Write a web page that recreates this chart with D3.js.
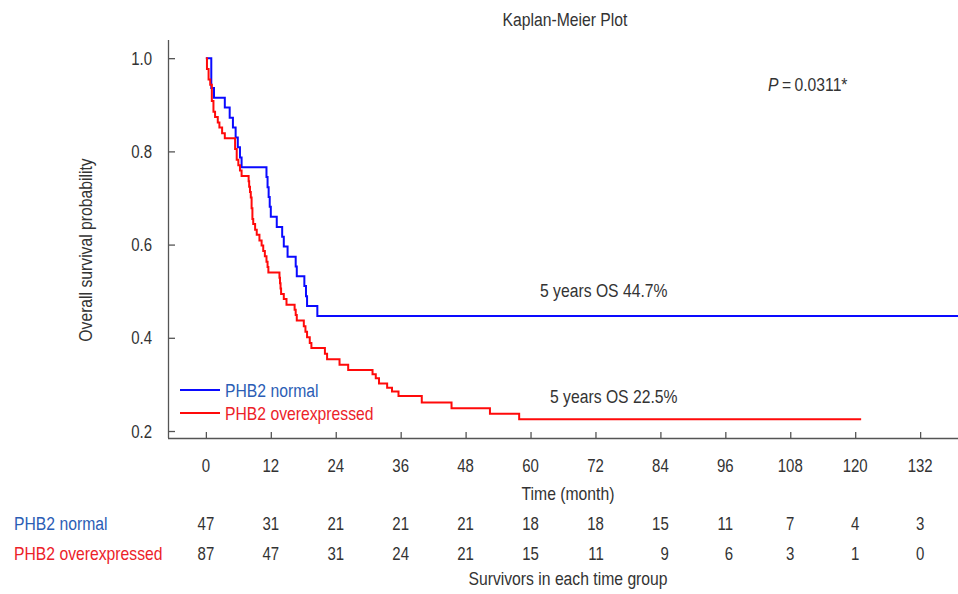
<!DOCTYPE html>
<html>
<head>
<meta charset="utf-8">
<script src="https://cdn.jsdelivr.net/npm/d3@7"></script>
<style>
  html, body { margin: 0; padding: 0; background: #fff; }
  svg text { font-family: "Liberation Sans", Arial, sans-serif; font-size: 18.5px; fill: #333; }
</style>
</head>
<body>
<svg id="chart" width="958" height="594"></svg>
<script>
// ---- data ----
const groups = ["PHB2 normal", "PHB2 overexpressed"];
const xTicks = [0, 12, 24, 36, 48, 60, 72, 84, 96, 108, 120, 132];
const yTicks = [0.2, 0.4, 0.6, 0.8, 1.0];

const normalTimes = [0, 1.0, 1.5, 3.5, 4.4, 5.0, 5.5, 5.9, 6.3, 6.6, 11.2, 11.4, 11.6, 11.8, 12.0, 13.1, 14.1, 14.4, 15.1, 16.6, 16.8, 18.2, 18.5, 18.7, 20.6, 139];
const normalSurv  = [1, 0.936, 0.915, 0.894, 0.872, 0.851, 0.830, 0.809, 0.787, 0.766, 0.745, 0.723, 0.702, 0.681, 0.660, 0.638, 0.617, 0.596, 0.574, 0.553, 0.532, 0.511, 0.489, 0.468, 0.447, 0.447];

const overTimes = [0, 0.2, 0.5, 0.8, 1.1, 1.4, 1.7, 2.2, 2.5, 3.0, 3.5, 5.4, 5.7, 6.0, 6.3, 6.6, 7.9, 8.0, 8.15, 8.3, 8.45, 8.6, 8.75, 9.1, 9.4, 9.9, 10.3, 10.6, 10.9, 11.2, 11.4, 11.55, 13.6, 13.7, 13.8, 13.9, 14.4, 14.9, 16.4, 16.6, 16.8, 18.1, 18.4, 18.7, 19.2, 19.5, 22.0, 22.4, 24.7, 26.3, 30.8, 31.4, 32.0, 33.5, 34.4, 35.6, 39.9, 45.4, 52.5, 57.9, 121.1];
const overSurv  = [1, 0.977, 0.954, 0.943, 0.908, 0.885, 0.874, 0.862, 0.851, 0.839, 0.828, 0.805, 0.782, 0.770, 0.759, 0.747, 0.736, 0.724, 0.713, 0.701, 0.678, 0.655, 0.644, 0.632, 0.621, 0.609, 0.598, 0.586, 0.575, 0.563, 0.552, 0.540, 0.529, 0.517, 0.506, 0.494, 0.483, 0.471, 0.460, 0.449, 0.437, 0.425, 0.413, 0.401, 0.389, 0.378, 0.366, 0.354, 0.342, 0.331, 0.322, 0.313, 0.302, 0.293, 0.285, 0.275, 0.261, 0.249, 0.237, 0.225, 0.225];

const normalAtRisk = [47, 31, 21, 21, 21, 18, 18, 15, 11, 7, 4, 3];
const overAtRisk   = [87, 47, 31, 24, 21, 15, 11, 9, 6, 3, 1, 0];

const titleText = "Kaplan-Meier Plot";
const xTitle = "Time (month)";
const yTitle = "Overall survival probability";
const tableTitle = "Survivors in each time group";
const pValue = "0.0311*";
const osNormal = "5 years OS 44.7%";
const osOver = "5 years OS 22.5%";

// ---- drawing ----
const blue = "#0a0aff", red = "#ff0a0a";
const blueText = "#2b5db5", redText = "#ec2229";
const axisColor = "#555";
const SX_WORD = 0.85, SX_NUM = 0.81; // horizontal condensing of the font

const svg = d3.select("#chart");
const x = d3.scaleLinear().domain([-7, 139]).range([168, 958]);
const y = d3.scaleLinear().domain([0.185, 1.039]).range([438, 40]);

function addText(parent, tx, ty, str, anchor, rot, sx) {
  return parent.append("text")
    .attr("transform", `translate(${tx},${ty})` + (rot ? ` rotate(${rot})` : "") + ` scale(${sx || SX_WORD},1)`)
    .attr("text-anchor", anchor || "start")
    .text(str);
}

// axes
const xAxis = d3.axisBottom(x).tickValues(xTicks).tickSize(-6).tickFormat("");
const gx = svg.append("g").attr("transform", "translate(0,438)").call(xAxis);
gx.select(".domain").attr("d", `M168,0.5H958`);
gx.selectAll("line, path").attr("stroke", axisColor).attr("stroke-width", 1.3);

const yAxis = d3.axisLeft(y).tickValues(yTicks).tickSize(-7).tickFormat("");
const gy = svg.append("g").attr("transform", "translate(168,0)").call(yAxis);
gy.select(".domain").attr("d", `M0.5,40V438`);
gy.selectAll("line, path").attr("stroke", axisColor).attr("stroke-width", 1.3);

// tick labels
const gxl = svg.append("g");
xTicks.forEach(t => addText(gxl, x(t), 472, String(t), "middle", 0, SX_NUM));
const gyl = svg.append("g");
yTicks.forEach(v => addText(gyl, 152, y(v) + 6.5, v.toFixed(1), "end", 0, SX_NUM));

// titles
addText(svg, 565, 26, titleText, "middle");
addText(svg, 568, 500, xTitle, "middle");
addText(svg, 92, 250, yTitle, "middle", -90);
addText(svg, 568, 585, tableTitle, "middle");

// curves
const line = d3.line().x(d => x(d[0])).y(d => y(d[1])).curve(d3.curveStepAfter);
const normalPts = normalTimes.map((t, i) => [t, normalSurv[i]]);
const overPts = overTimes.map((t, i) => [t, overSurv[i]]);
svg.append("path").datum(normalPts).attr("d", line).attr("fill", "none").attr("stroke", blue).attr("stroke-width", 2);
svg.append("path").datum(overPts).attr("d", line).attr("fill", "none").attr("stroke", red).attr("stroke-width", 2);

// annotations
const pt = svg.append("text").attr("transform", `translate(768,91) scale(${SX_WORD},1)`);
pt.append("tspan").attr("font-style", "italic").text("P");
pt.append("tspan").attr("dx", 4).text("=");
pt.append("tspan").attr("dx", 4).text(pValue);
addText(svg, 540, 297, osNormal);
addText(svg, 550, 403, osOver);

// legend
const legendColors = [blue, red], legendText = [blueText, redText];
const lg = svg.append("g");
groups.forEach((g, i) => {
  const ly = 390 + i * 23;
  lg.append("line").attr("x1", 180).attr("x2", 220).attr("y1", ly).attr("y2", ly)
    .attr("stroke", legendColors[i]).attr("stroke-width", 2);
  addText(lg, 225, ly + 6.5, g).style("fill", legendText[i]);
});

// risk table
const rows = [normalAtRisk, overAtRisk];
rows.forEach((r, i) => {
  addText(svg, 14, 530 + i * 30, groups[i]).style("fill", legendText[i]);
});
const tmp = svg.append("text").attr("x", -100).attr("y", -100);
function w(s) { tmp.text(s); return tmp.node().getComputedTextLength() * SX_NUM; }
xTicks.forEach((t, j) => {
  const maxW = Math.max(w(String(normalAtRisk[j])), w(String(overAtRisk[j])));
  rows.forEach((r, i) => {
    addText(svg, x(t) + maxW / 2, 530 + i * 30, String(r[j]), "end", 0, SX_NUM);
  });
});
tmp.remove();
</script>
</body>
</html>
